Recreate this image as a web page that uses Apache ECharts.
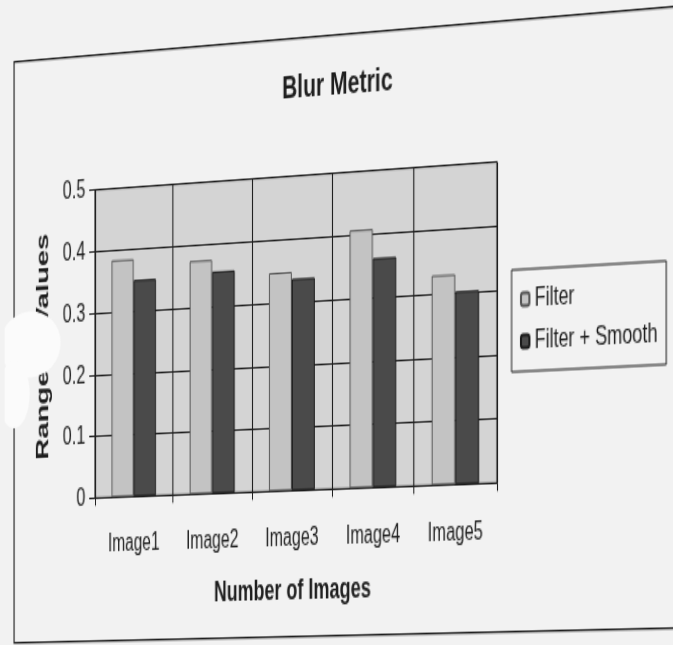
<!DOCTYPE html>
<html>
<head>
<meta charset="utf-8">
<script src="https://cdn.jsdelivr.net/npm/echarts@6/dist/echarts.min.js"></script>
<style>
  html, body { margin: 0; padding: 0; width: 673px; height: 645px; overflow: hidden; background: #f2f2f2; }
  #chart { position: absolute; left: 0; top: 0; width: 720px; height: 440px; transform-origin: 0 0; }
</style>
</head>
<body>
<div id="chart"></div>
<script>
// Chart data
const categories = ['Image1', 'Image2', 'Image3', 'Image4', 'Image5'];
const seriesNames = ['Filter', 'Filter + Smooth'];
const filterValues = [0.384, 0.375, 0.348, 0.408, 0.329];
const filterSmoothValues = [0.350, 0.356, 0.337, 0.362, 0.302];
const yTickLabels = ['0', '0.1', '0.2', '0.3', '0.4', '0.5'];

const FONT = "'Liberation Sans', Arial, sans-serif";
const INK = '#1e1e1e';

// Plot rectangle in the page's own (flat) coordinates
const plot = { left: 95, top: 122.6, width: 402, height: 198.7 };

// The printed sheet is tall-stretched and slanted: map the flat chart onto that quad
function solve(A, b) {
  const n = b.length;
  for (let i = 0; i < n; i++) {
    let p = i;
    for (let r = i + 1; r < n; r++) if (Math.abs(A[r][i]) > Math.abs(A[p][i])) p = r;
    [A[i], A[p]] = [A[p], A[i]]; [b[i], b[p]] = [b[p], b[i]];
    for (let r = i + 1; r < n; r++) {
      const k = A[r][i] / A[i][i];
      for (let c = i; c < n; c++) A[r][c] -= k * A[i][c];
      b[r] -= k * b[i];
    }
  }
  const x = new Array(n).fill(0);
  for (let i = n - 1; i >= 0; i--) {
    let s = b[i];
    for (let c = i + 1; c < n; c++) s -= A[i][c] * x[c];
    x[i] = s / A[i][i];
  }
  return x;
}
function homography(src, dst) {
  const A = [], b = [];
  for (let i = 0; i < 4; i++) {
    const [x, y] = src[i], [X, Y] = dst[i];
    A.push([x, y, 1, 0, 0, 0, -x * X, -y * X]); b.push(X);
    A.push([0, 0, 0, x, y, 1, -x * Y, -y * Y]); b.push(Y);
  }
  return solve(A, b);
}
const L = plot.left, R = plot.left + plot.width, T = plot.top, B = plot.top + plot.height;
const [a, bb, c, d, e, f, g, h] = homography(
  [[L, T], [R, T], [L, B], [R, B]],
  [[95, 190], [497, 162], [95, 498], [497, 483]]
);
document.getElementById('chart').style.transform =
  `matrix3d(${a},${d},0,${g},${bb},${e},0,${h},0,0,1,0,${c},${f},0,1)`;

const chart = echarts.init(document.getElementById('chart'), null, { renderer: 'canvas' });

chart.setOption({
  animation: false,
  backgroundColor: 'transparent',
  textStyle: { fontFamily: FONT, color: INK },
  grid: {
    left: plot.left, top: plot.top, width: plot.width, height: plot.height,
    show: true, backgroundColor: '#d4d4d4', borderColor: INK, borderWidth: 1
  },
  legend: {
    orient: 'vertical',
    left: 511, top: 190,
    padding: [10, 8, 10, 8],
    itemGap: 9,
    itemWidth: 8, itemHeight: 8,
    borderColor: INK, borderWidth: 1,
    backgroundColor: 'transparent',
    textStyle: { fontFamily: FONT, fontSize: 17, color: INK },
    data: seriesNames
  },
  xAxis: {
    type: 'category',
    data: categories,
    name: 'Number of Images',
    nameLocation: 'middle',
    nameGap: 55,
    nameTextStyle: { fontFamily: FONT, fontSize: 18, fontWeight: 'bold', color: INK },
    axisLine: { show: true, lineStyle: { color: INK, width: 1.2 } },
    axisTick: { show: true, length: 5, lineStyle: { color: INK } },
    axisLabel: { interval: 0, margin: 22, fontFamily: FONT, fontSize: 16, color: INK },
    splitLine: { show: true, lineStyle: { color: INK, width: 1.1 } }
  },
  yAxis: {
    type: 'value',
    min: 0, max: 0.5, interval: 0.1,
    name: 'Range of Values',
    nameLocation: 'middle',
    nameGap: 34,
    nameTextStyle: { fontFamily: FONT, fontSize: 19, fontWeight: 'bold', color: INK },
    axisLine: { show: true, lineStyle: { color: INK, width: 1.2 } },
    axisTick: { show: true, length: 6, lineStyle: { color: INK } },
    axisLabel: {
      margin: 10, fontFamily: FONT, fontSize: 17, color: INK,
      formatter: v => yTickLabels[Math.round(v * 10)]
    },
    splitLine: { show: true, lineStyle: { color: INK, width: 1.1 } }
  },
  series: [
    {
      name: seriesNames[0], type: 'bar', data: filterValues,
      barGap: '0%', barCategoryGap: '42.9%',
      itemStyle: { color: '#c3c3c3', borderColor: '#555', borderWidth: 1 }
    },
    {
      name: seriesNames[1], type: 'bar', data: filterSmoothValues,
      itemStyle: { color: '#4a4a4a', borderColor: '#1a1a1a', borderWidth: 1 }
    }
  ],
  graphic: [
    {
      type: 'rect', z: -1, silent: true,
      shape: { x: 10, y: 35.6, width: 720, height: 378 },
      style: { fill: 'none', stroke: INK, lineWidth: 1.2 }
    },
    {
      type: 'text', x: 341, y: 67, silent: true,
      style: {
        text: 'Blur Metric', align: 'center', verticalAlign: 'middle',
        fontFamily: FONT, fontSize: 21, fontWeight: 'bold', fill: INK
      }
    },
    // pale worn patch on the left edge of the sheet
    {
      type: 'circle', x: 27, y: 220, scaleX: 1.0, scaleY: 0.67, z: 100, silent: true,
      shape: { cx: 0, cy: 0, r: 32 },
      style: { fill: '#fbfbfb' }
    },
    {
      type: 'circle', x: 10, y: 252, scaleX: 0.75, scaleY: 1.0, z: 100, silent: true,
      shape: { cx: 0, cy: 0, r: 22 },
      style: { fill: '#fbfbfb' }
    }
  ]
});
</script>
</body>
</html>
